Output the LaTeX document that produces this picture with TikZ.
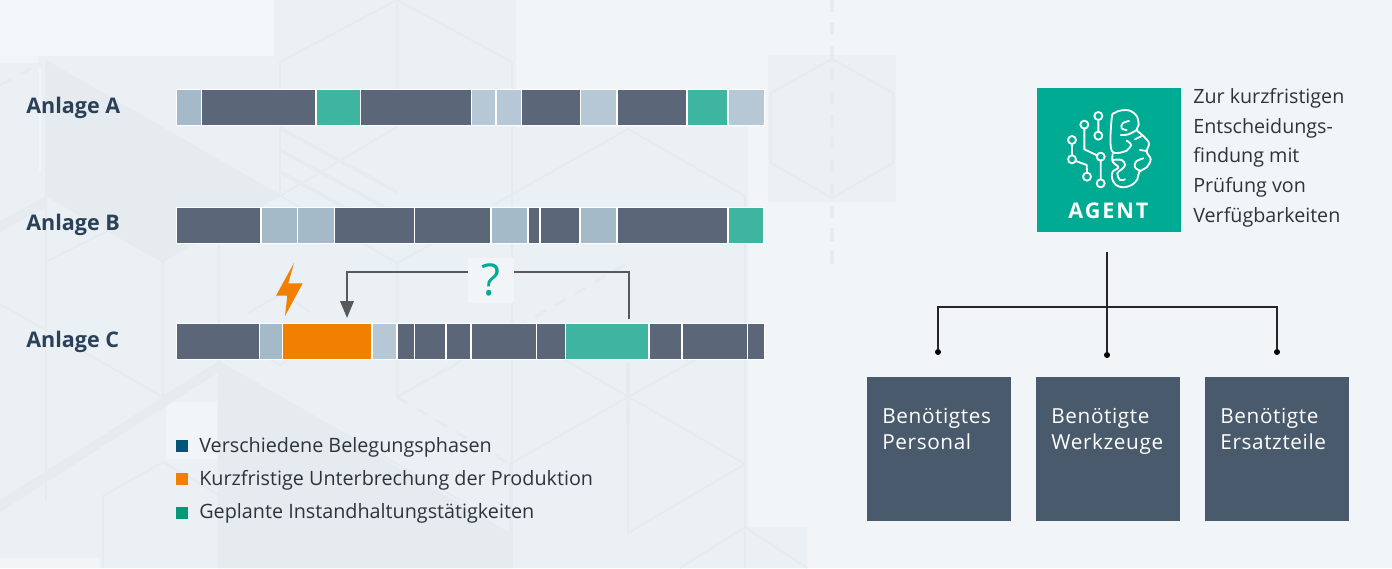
\documentclass[tikz,border=0pt]{standalone}
\usepackage{fontspec}
\setmainfont{Open Sans}
\usetikzlibrary{arrows.meta}
\definecolor{bgbase}{HTML}{F1F5F8}
\definecolor{bgpanel}{HTML}{EBF0F4}
\definecolor{bgdark}{HTML}{E5EBEE}
\definecolor{hexline}{HTML}{E5EBEF}
\definecolor{segdark}{HTML}{5C6679}
\definecolor{seglight}{HTML}{A4BAC9}
\definecolor{segpale}{HTML}{B6C8D5}
\definecolor{segteal}{HTML}{3EB5A0}
\definecolor{orangeb}{HTML}{F18000}
\definecolor{agentgreen}{HTML}{00AB94}
\definecolor{slatebox}{HTML}{4A5A6D}
\definecolor{labelblue}{HTML}{2A4159}
\definecolor{bodytext}{HTML}{2D343C}
\tikzset{
  rowlabel/.style={anchor=base west,inner sep=0pt,text=labelblue,font=\fontsize{12.25}{14}\selectfont\bfseries},
  legendbox/.style={anchor=north west,inner sep=0pt,minimum size=0.24cm},
  legendtext/.style={anchor=base west,inner sep=0pt,text=bodytext,font=\fontsize{11.25}{14}\selectfont},
  needbox/.style={anchor=north west,fill=slatebox,inner sep=0pt,minimum size=2.88cm},
  needtext/.style={anchor=base west,inner sep=0pt,align=left,text=white,font=\fontsize{11.8}{14.8}\selectfont\addfontfeature{LetterSpace=3}},
  linkdot/.style={circle,fill=black,inner sep=0pt,minimum size=0.12cm},
  hexl/.style={draw=hexline,line width=1pt},
  hexd/.style={draw=hexline,line width=1.6pt,dash pattern=on 7pt off 6pt},
  brainl/.style={draw=white,line width=1.05pt,line cap=round,line join=round}
}
\begin{document}
\begin{tikzpicture}[x=0.02cm,y=-0.02cm]
    \useasboundingbox (0,0) rectangle (1392,568);
    % background
    \fill[bgbase] (0,0) rectangle (1392,568);
    \fill[white,opacity=0.25] (0,0) rectangle (274,56);
    \fill[bgpanel] (274,0)--(516,0)--(516,127)--(748,127)--(748,527)--(807,527)--(807,568)--(0,568)--(0,63)--(38,63)--(38,56)--(274,56)--cycle;
    \fill[bgbase] (0,558) rectangle (100,568);
    \fill[bgbase] (166,402) rectangle (217,459);
    \fill[bgpanel] (768,55) rectangle (896,202);
    \fill[bgdark] (46,61)--(280,196)--(163,262)--(47,196)--cycle;
    \fill[bgdark] (219,362)--(510,533)--(510,568)--(219,568)--cycle;
    \fill[bgdark] (0,500)--(219,362)--(219,372)--(0,512)--cycle;
    \fill[bgdark] (0,221)--(47,196)--(47,206)--(0,232)--cycle;
    \path[hexl] (46,61)--(46,500) (46,61)--(397,263)--(460,228);
    \path[hexl] (47,196)--(163,127) (47,196)--(163,262)--(163,397)--(0,304);
    \path[hexl] (47,261)--(163,203) (163,397)--(219,362)--(460,500);
    \path[hexl] (219,245)--(219,568) (103,568)--(103,496)--(163,462)--(219,495);
    \path[hexl] (280,62)--(397,0)--(512,62)--(512,568) (280,62)--(280,196) (397,0)--(397,127);
    \path[hexl] (280,196)--(397,127) (397,263)--(397,397)--(460,362);
    \path[hexl] (248,313)--(283,293)--(310,312) (245,345)--(280,365)--(310,345);
    \path[hexl] (493,205)--(628,129)--(745,196)--(745,568) (510,568)--(510,464)--(628,397)--(697,359);
    \path[hexl] (563,359)--(745,464)--(628,533)--(628,402) (680,568)--(745,527)--(807,568);
    \path[hexl,line width=2pt] (628,362)--(628,424) (280,128)--(397,192) (280,150)--(397,214) (280,172)--(397,236);
    \path[hexd] (397,397)--(628,263) (397,397)--(510,464) (0,85)--(36,66);
    \path[hexl] (832,59)--(893,93)--(893,163)--(832,198)--(771,163)--(771,93)--cycle;
    \path[hexd,line width=2.8pt] (832,0)--(832,265);
    \path[draw=white,opacity=0.4,line width=1.2pt] (40,69)--(40,170);
    % bars
    \path (26,113) node(anlagea)[rowlabel] {Anlage A};
    \path (26,230) node(anlageb)[rowlabel] {Anlage B};
    \path (26,347) node(anlagec)[rowlabel] {Anlage C};
    \fill[white] (176,89) rectangle (765,126);
    \foreach \xa/\xb/\colr in {177/201/seglight,202/315/segdark,317/360/segteal,361/471/segdark,472/495/segpale,497/521/segpale,522/580/segdark,581/616/segpale,618/686/segdark,688/727/segteal,729/764/segpale}
      \fill[\colr] (\xa,90) rectangle (\xb,125);
    \fill[white] (176,207) rectangle (765,244);
    \foreach \xa/\xb/\colr in {177/260/segdark,262/297/seglight,298/334/seglight,335/414/segdark,415/490/segdark,492/527/seglight,529/539/segdark,541/579/segdark,581/616/seglight,618/727/segdark,729/763/segteal}
      \fill[\colr] (\xa,208) rectangle (\xb,243);
    \fill[white] (176,323) rectangle (765,360);
    \foreach \xa/\xb/\colr in {177/259/segdark,260/282/seglight,283/371/orangeb,373/396/segpale,398/414/segdark,415/445/segdark,447/470/segdark,472/536/segdark,537/565/segdark,566/648/segteal,650/681/segdark,683/747/segdark,748/764/segdark}
      \fill[\colr] (\xa,324) rectangle (\xb,359);
    \fill[orangeb] (294,263)--(288.3,283.3)--(302.7,283.3)--(285,316)--(287.3,295.7)--(276,295.7)--cycle;
    % question link
    \coordinate (qstart) at (629,319);
    \coordinate (qend) at (347,318);
    \draw[color=black!65,line width=1.2pt,-{Triangle[width=0.27cm,length=0.34cm]}] (qstart)--(629,272)--(347,272)--(qend);
    \path (491,280) node(qmark)[fill=bgbase,minimum width=0.92cm,minimum height=0.9cm,inner sep=0pt,text=agentgreen,font=\fontsize{25}{28}\selectfont] {?};
    % legend
    \path (175.5,440) node(legonebox)[legendbox,fill={rgb,255:red,0;green,85;blue,120}] {};
    \path (175.5,473) node(legtwobox)[legendbox,fill=orangeb] {};
    \path (175.5,506.5) node(legthreebox)[legendbox,fill={rgb,255:red,0;green,153;blue,122}] {};
    \path (199,452) node(legone)[legendtext] {Verschiedene Belegungsphasen};
    \path (199,485) node(legtwo)[legendtext] {Kurzfristige Unterbrechung der Produktion};
    \path (199,518) node(legthree)[legendtext] {Geplante Instandhaltungstätigkeiten};
    % agent
    \path (1037,88) node(agent)[anchor=north west,fill=agentgreen,inner sep=0pt,minimum size=2.88cm] {};
    \path (1068,218) node(agentname)[anchor=base west,inner sep=0pt,text=white,font=\fontsize{12.3}{14}\selectfont\bfseries\addfontfeature{LetterSpace=9}] {AGENT};
    \begin{scope}[shift={(1030,80)},x=0.00667cm,y=-0.00667cm]
      \foreach \cx/\cy in {205/108,163/134,205/167,126/180,126/238,212/230,171/290,212/310}
        \draw[brainl] (\cx,\cy) circle (12);
      \draw[brainl] (205,120)--(205,155) (163,146)--(163,208)--(201,226) (126,192)--(126,226) (137,243)--(170,255)--(171,278) (212,242)--(212,298);
      \draw[brainl] plot[smooth,tension=.6] coordinates {(290,212)(245,212)(245,115)(255,98)(275,91)(300,92)(320,108)(326,135)(320,150)(340,168)(357,190)(350,215)(362,238)(350,262)(328,275)(322,298)(305,315)(280,322)(258,315)(246,295)(248,275)(265,262)(248,245)(248,222)};
      \draw[brainl] plot[smooth,tension=.7] coordinates {(297,123)(278,130)(275,145)(290,150)};
      \draw[brainl] plot[smooth,tension=.7] coordinates {(272,165)(295,163)(320,150)};
      \draw[brainl] plot[smooth,tension=.7] coordinates {(290,182)(303,195)(290,212)};
      \draw[brainl] plot[smooth,tension=.7] coordinates {(340,235)(318,245)(315,262)(330,272)};
      \draw[brainl] plot[smooth,tension=.7] coordinates {(248,240)(275,240)(285,255)(275,268)(262,280)(270,300)(285,298)};
      \draw[brainl] (315,178)--(335,168) (330,210)--(350,213);
    \end{scope}
    \path (1193,222) node(agenttext)[anchor=base west,inner sep=0pt,align=left,text=bodytext,font=\fontsize{11.2}{16.8}\selectfont] {Zur kurzfristigen\\Entscheidungs-\\findung mit\\Prüfung von\\Verfügbarkeiten};
    % tree
    \path (867,377) node(boxa)[needbox] {};
    \path (1036,377) node(boxb)[needbox] {};
    \path (1205,377) node(boxc)[needbox] {};
    \path (882,449) node(needa)[needtext] {Benötigtes\\Personal};
    \path (1051,449) node(needb)[needtext] {Benötigte\\Werkzeuge};
    \path (1220,449) node(needc)[needtext] {Benötigte\\Ersatzteile};
    \path (938,352) node(dota)[linkdot] {};
    \path (1107,355) node(dotb)[linkdot] {};
    \path (1277,352) node(dotc)[linkdot] {};
    \coordinate (treetop) at (1107,252);
    \draw[line width=0.7pt,color=black!85] (treetop)--(dotb);
    \draw[line width=0.7pt,color=black!85] (dota)--(938,307)--(1277,307)--(dotc);
\end{tikzpicture}
\end{document}
